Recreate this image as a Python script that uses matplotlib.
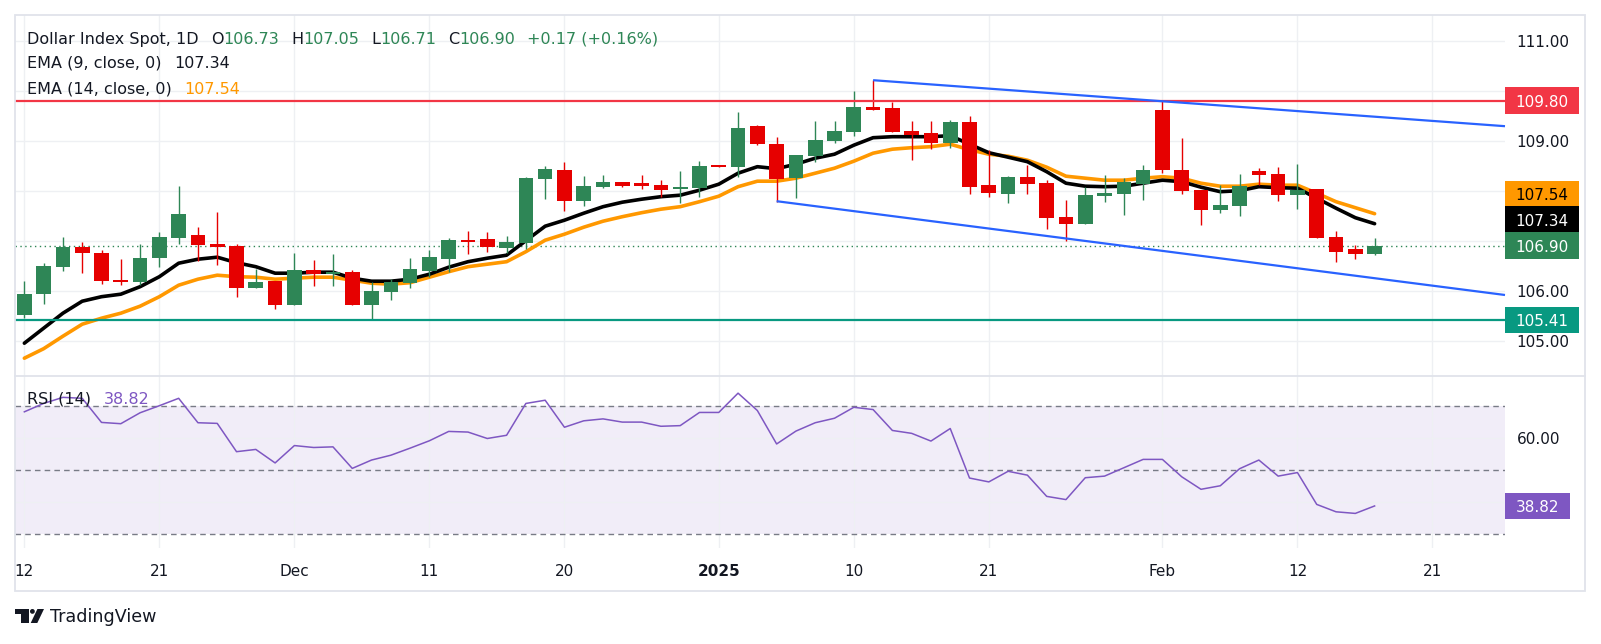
import matplotlib
matplotlib.use("Agg")
import matplotlib.pyplot as plt
from matplotlib.patches import Rectangle, Polygon, Circle
from matplotlib.transforms import blended_transform_factory

# daily candles of the Dollar Index (bar index 0 = Nov 12)
opens = [105.51, 105.94, 106.48, 106.87, 106.75, 106.21, 106.17, 106.66, 107.06, 107.11,
         106.93, 106.90, 106.06, 106.19, 105.72, 106.41, 106.34, 106.37, 105.72, 105.97,
         106.16, 106.39, 106.64, 107.01, 107.03, 106.86, 106.95, 108.24, 108.41, 107.80,
         108.07, 108.17, 108.15, 108.11, 108.04, 108.06, 108.49, 108.47, 109.29, 108.93,
         108.25, 108.69, 108.99, 109.17, 109.67, 109.65, 109.19, 109.15, 108.95, 109.37,
         108.11, 107.93, 108.27, 108.15, 107.47, 107.33, 107.89, 107.93, 108.13, 109.61,
         108.41, 108.01, 107.61, 107.69, 108.39, 108.33, 107.91, 108.03, 107.07, 106.83,
         106.73]
highs = [106.19, 106.56, 107.07, 106.97, 106.81, 106.63, 106.93, 107.17, 108.09, 107.27,
         107.57, 106.93, 106.43, 106.19, 106.75, 106.61, 106.73, 106.41, 106.17, 106.23,
         106.65, 106.81, 107.05, 107.19, 107.17, 107.10, 108.28, 108.49, 108.57, 108.29,
         108.31, 108.17, 108.31, 108.21, 108.39, 108.59, 108.49, 109.57, 109.31, 109.07,
         108.71, 109.39, 109.39, 109.99, 110.21, 109.77, 109.39, 109.39, 109.41, 109.49,
         108.81, 108.29, 108.51, 108.21, 107.81, 108.07, 108.31, 108.25, 108.51, 109.81,
         109.05, 108.01, 108.11, 108.33, 108.45, 108.47, 108.53, 108.03, 107.19, 106.91,
         107.05]
lows = [105.45, 105.73, 106.40, 106.36, 106.14, 106.11, 106.11, 106.48, 106.94, 106.60,
        106.52, 105.88, 106.05, 105.64, 105.72, 106.09, 106.09, 105.72, 105.41, 105.81,
        106.05, 106.28, 106.38, 106.74, 106.77, 106.76, 106.83, 107.84, 107.59, 107.69,
        108.05, 108.08, 108.03, 107.87, 107.76, 107.87, 108.48, 108.28, 108.91, 107.78,
        107.86, 108.57, 108.95, 109.09, 109.61, 109.17, 108.61, 108.83, 108.85, 107.93,
        107.87, 107.75, 107.93, 107.23, 107.00, 107.33, 107.77, 107.51, 107.81, 108.35,
        107.93, 107.31, 107.55, 107.49, 108.11, 107.79, 107.63, 107.05, 106.57, 106.63,
        106.71]
closes = [105.93, 106.49, 106.87, 106.76, 106.20, 106.18, 106.65, 107.07, 107.53, 106.91,
          106.88, 106.06, 106.17, 105.72, 106.41, 106.34, 106.37, 105.72, 105.99, 106.17,
          106.43, 106.67, 107.01, 106.98, 106.87, 106.97, 108.26, 108.43, 107.80, 108.09,
          108.17, 108.09, 108.09, 108.02, 108.06, 108.49, 108.48, 109.25, 108.93, 108.24,
          108.71, 109.01, 109.19, 109.67, 109.61, 109.17, 109.11, 108.95, 109.37, 108.07,
          107.95, 108.27, 108.13, 107.46, 107.33, 107.91, 107.95, 108.17, 108.41, 108.41,
          107.99, 107.61, 107.71, 108.09, 108.31, 107.91, 108.01, 107.05, 106.77, 106.73,
          106.90]

ema9 = [104.95, 105.25, 105.55, 105.79, 105.88, 105.93, 106.08, 106.28, 106.55, 106.63,
        106.67, 106.56, 106.48, 106.35, 106.35, 106.37, 106.37, 106.25, 106.19, 106.19,
        106.23, 106.33, 106.47, 106.58, 106.65, 106.71, 107.00, 107.29, 107.41, 107.55,
        107.68, 107.77, 107.83, 107.88, 107.91, 108.01, 108.13, 108.35, 108.48, 108.44,
        108.53, 108.65, 108.73, 108.91, 109.06, 109.08, 109.08, 109.08, 109.10, 108.93,
        108.76, 108.67, 108.58, 108.38, 108.15, 108.09, 108.08, 108.09, 108.15, 108.21,
        108.18, 108.07, 107.98, 108.00, 108.08, 108.06, 108.05, 107.85, 107.65, 107.46,
        107.34]
ema14 = [104.65, 104.84, 105.09, 105.33, 105.45, 105.55, 105.69, 105.88, 106.11, 106.23,
         106.31, 106.28, 106.27, 106.23, 106.25, 106.27, 106.27, 106.21, 106.15, 106.13,
         106.16, 106.27, 106.38, 106.48, 106.53, 106.58, 106.78, 107.01, 107.13, 107.27,
         107.39, 107.48, 107.56, 107.63, 107.68, 107.78, 107.89, 108.08, 108.19, 108.19,
         108.25, 108.35, 108.45, 108.59, 108.75, 108.83, 108.86, 108.88, 108.93, 108.82,
         108.73, 108.69, 108.61, 108.47, 108.29, 108.25, 108.21, 108.21, 108.25, 108.28,
         108.25, 108.15, 108.09, 108.09, 108.13, 108.11, 108.11, 107.95, 107.78, 107.66,
         107.54]
rsi = [68.1, 70.7, 72.6, 72.3, 64.8, 64.4, 67.8, 70.0, 72.3, 64.7,
       64.5, 55.7, 56.4, 52.2, 57.6, 57.0, 57.2, 50.5, 53.1, 54.6,
       56.8, 59.1, 62.0, 61.8, 59.8, 60.8, 70.7, 71.7, 63.3, 65.3,
       65.9, 64.9, 64.9, 63.6, 63.8, 67.9, 67.9, 73.9, 68.5, 58.1,
       62.1, 64.7, 66.1, 69.5, 68.8, 62.3, 61.4, 59.0, 62.9, 47.5,
       46.3, 49.6, 48.4, 41.8, 40.8, 47.6, 48.1, 50.7, 53.3, 53.3,
       47.9, 44.0, 45.1, 50.4, 53.1, 48.1, 49.2, 39.3, 37.0, 36.5,
       38.82]

# drawn levels and channel anchors (bar index, price)
resistance = 109.80
support = 105.41
upper_chan_x = [44, 70]
upper_chan_y = [110.21, 109.48]
lower_chan_x = [39, 70]
lower_chan_y = [107.79, 106.25]

tick_pos = [0, 7, 14, 21, 28, 36, 43, 50, 59, 66, 73]
tick_labels = ["12", "21", "Dec", "11", "20", "2025", "10", "21", "Feb", "12", "21"]
price_ticks = [105, 106, 107, 108, 109, 110, 111]
price_tick_labels = ["105.00", "106.00", "", "", "109.00", "", "111.00"]  # rest hidden behind tags

GREEN = "#2e8656"
RED = "#e60000"
DARK = "#131722"
GRID = "#eef0f3"
W, H = 1601, 644

fig = plt.figure(figsize=(W / 100, H / 100), dpi=100)
fig.patch.set_facecolor("white")


def px_axes(left, top, right, bottom, **kw):
    return fig.add_axes([left / W, 1 - bottom / H, (right - left) / W, (bottom - top) / H], **kw)


ax = px_axes(14.7, 15, 1505, 375.7)
ax_rsi = px_axes(14.7, 375.7, 1505, 548.3, sharex=ax)

n = len(closes)
idx = list(range(n))

# ---- price pane
ax.set_xlim(-0.5, 76.76)
ax.set_ylim(104.30, 111.514)
ax.set_yticks(price_ticks)
ax.set_yticklabels(price_tick_labels)
ax.set_xticks(tick_pos)
ax.grid(True, color=GRID, lw=1.0, zorder=0)
ax.tick_params(axis="y", left=False, labelleft=False, right=True, labelright=True,
               length=0, pad=8.5, labelsize=11, labelcolor=DARK)
ax.tick_params(axis="x", length=0, labelbottom=False)
for s in ax.spines.values():
    s.set_visible(False)

ax.plot(idx, ema14, color="#ff9800", lw=2.6, zorder=3, solid_capstyle="round")
ax.plot(idx, ema9, color="black", lw=2.6, zorder=3.1, solid_capstyle="round")

for i in idx:
    o, h, l, c = opens[i], highs[i], lows[i], closes[i]
    col = GREEN if c >= o else RED
    ax.vlines(i, l, h, color=col, lw=1.0, zorder=4)
    ax.bar(i, max(abs(c - o), 0.025), bottom=min(o, c), width=0.76, color=col,
           lw=0, zorder=4.1)

ax.axhline(resistance, color="#f23645", lw=1.6, zorder=5)
ax.axhline(support, color="#089981", lw=1.6, zorder=5)
ax.axhline(closes[-1], color=GREEN, lw=1.0, ls=(0, (1, 2.5)), zorder=2)

x_end = ax.get_xlim()[1]
for xs, ys in [(upper_chan_x, upper_chan_y), (lower_chan_x, lower_chan_y)]:
    slope = (ys[1] - ys[0]) / (xs[1] - xs[0])
    ax.plot([xs[0], x_end], [ys[0], ys[0] + slope * (x_end - xs[0])],
            color="#2962ff", lw=1.6, zorder=6, clip_on=False, solid_capstyle="butt")

# ---- RSI pane
ax_rsi.set_ylim(25.65, 79.33)
ax_rsi.set_yticks([40, 60])
ax_rsi.set_yticklabels(["", "60.00"])
ax_rsi.grid(True, color=GRID, lw=1.0, zorder=0)
ax_rsi.axhspan(30, 70, color="#7e57c2", alpha=0.1, lw=0, zorder=1)
for lvl in (70, 50, 30):
    ax_rsi.axhline(lvl, color="#787b86", lw=1.0, ls=(0, (4, 3)), zorder=2)
ax_rsi.plot(idx, rsi, color="#7e57c2", lw=1.1, zorder=3)
ax_rsi.tick_params(axis="y", left=False, labelleft=False, right=True, labelright=True,
                   length=0, pad=8.5, labelsize=11, labelcolor=DARK)
ax_rsi.set_xticklabels(tick_labels)
ax_rsi.tick_params(axis="x", length=0, pad=11, labelsize=11, labelcolor=DARK)
for lab in ax_rsi.get_xticklabels():
    if lab.get_text() == "2025":
        lab.set_fontweight("bold")
for s in ax_rsi.spines.values():
    s.set_visible(False)

AX_W_PX = 1505 - 14.7


def tag(a, value, text, face, fg, width_px, lift_px=0.0):
    # price-scale label; lift_px moves it up when tags would collide
    y0 = a.transData.transform((0, 0))[1]
    y1 = a.transData.transform((0, 1))[1]
    ppu = y1 - y0
    yc = value + lift_px / ppu
    h = 26.5 / ppu
    w = width_px / AX_W_PX
    tr = blended_transform_factory(a.transAxes, a.transData)
    a.add_patch(Rectangle((1.0, yc - h / 2), w, h, transform=tr, facecolor=face,
                          edgecolor="none", clip_on=False, zorder=8))
    a.text(1.0 + w / 2, yc, text, transform=tr, ha="center", va="center_baseline",
           color=fg, fontsize=11, zorder=9, clip_on=False)


tag(ax, resistance, "%.2f" % resistance, "#f23645", "white", 74)
tag(ax, ema14[-1], "%.2f" % ema14[-1], "#ff9800", "black", 74, lift_px=19.7)
tag(ax, ema9[-1], "%.2f" % ema9[-1], "black", "white", 74, lift_px=4.2)
tag(ax, closes[-1], "%.2f" % closes[-1], GREEN, "white", 74)
tag(ax, support, "%.2f" % support, "#089981", "white", 74)
tag(ax_rsi, rsi[-1], "%.2f" % rsi[-1], "#7e57c2", "white", 65)

# ---- overlay in pixel coordinates: frame, legends, logo
ov = fig.add_axes([0, 0, 1, 1], zorder=20)
ov.set_xlim(0, W)
ov.set_ylim(H, 0)
ov.axis("off")
ov.patch.set_alpha(0)
ov.add_patch(Rectangle((14.7, 15), 1585 - 14.7, 591 - 15, fill=False,
                       edgecolor="#e0e3eb", lw=1.3))
ov.plot([14.7, 1585], [375.7, 375.7], color="#e0e3eb", lw=1.3)


def chain(x, y, parts, size=11.5):
    prev = None
    for txt, col, gap in parts:
        if prev is None:
            prev = ov.text(x, y, txt, color=col, fontsize=size, va="center", ha="left")
        else:
            prev = ov.annotate(txt, xy=(1, 0.5), xycoords=prev, xytext=(gap, 0),
                               textcoords="offset points", color=col, fontsize=size,
                               va="center", ha="left")


chain(27.4, 39, [("Dollar Index Spot, 1D", DARK, 0), ("O", DARK, 8.6),
                 ("%.2f" % opens[-1], GREEN, 0), ("H", DARK, 8.6),
                 ("%.2f" % highs[-1], GREEN, 0), ("L", DARK, 8.6),
                 ("%.2f" % lows[-1], GREEN, 0), ("C", DARK, 8.6),
                 ("%.2f" % closes[-1], GREEN, 0), ("+0.17 (+0.16%)", GREEN, 8.6)])
chain(27.4, 63, [("EMA (9, close, 0)", DARK, 0), ("%.2f" % ema9[-1], DARK, 9)])
chain(27.4, 89, [("EMA (14, close, 0)", DARK, 0), ("%.2f" % ema14[-1], "#ff9800", 9)])
chain(27.4, 399, [("RSI (14)", DARK, 0), ("%.2f" % rsi[-1], "#7e57c2", 9)])

# TradingView logo
ov.add_patch(Polygon([(14.7, 609), (28.7, 609), (28.7, 623), (20.7, 623), (20.7, 614),
                      (14.7, 614)], closed=True, facecolor=DARK, edgecolor="none"))
ov.add_patch(Circle((32.4, 611.4), 2.4, facecolor=DARK, edgecolor="none"))
ov.add_patch(Polygon([(30.7, 623), (37.3, 623), (44, 609), (37.4, 609)], closed=True,
                     facecolor=DARK, edgecolor="none"))
ov.text(50, 617, "TradingView", fontsize=12.6, color=DARK, va="center", ha="left")

fig.savefig("out.png", dpi=100)
